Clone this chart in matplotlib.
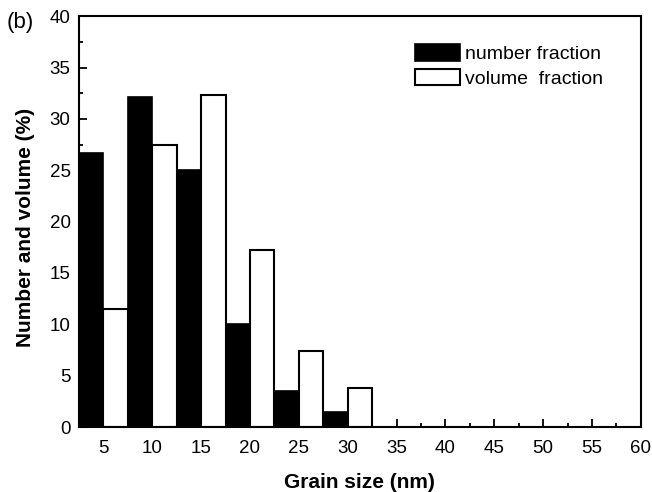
import matplotlib
matplotlib.use('Agg')
import matplotlib.pyplot as plt
from matplotlib.ticker import MultipleLocator

plt.rcParams['font.family'] = ['Liberation Sans', 'DejaVu Sans']

# grain size bins (nm) and fractions (%)
grain_size = [5, 10, 15, 20, 25, 30]
number_frac = [26.7, 32.1, 25.0, 10.0, 3.5, 1.5]
volume_frac = [11.45, 27.5, 32.3, 17.2, 7.4, 3.85]

BAR_W = 2.5

fig = plt.figure(figsize=(6.52, 4.92), dpi=100)
ax = fig.add_axes([0.121, 0.132, 0.862, 0.835])

ax.bar([g - BAR_W / 2 for g in grain_size], number_frac, width=BAR_W,
       color='black', edgecolor='black', linewidth=1.2, label='number fraction')
ax.bar([g + BAR_W / 2 for g in grain_size], volume_frac, width=BAR_W,
       color='white', edgecolor='black', linewidth=1.5, label='volume  fraction')

ax.set_xlim(2.5, 60)
ax.set_ylim(0, 40)
ax.xaxis.set_major_locator(MultipleLocator(5))
ax.xaxis.set_minor_locator(MultipleLocator(2.5))
ax.yaxis.set_major_locator(MultipleLocator(5))
ax.yaxis.set_minor_locator(MultipleLocator(2.5))
ax.tick_params(which='both', direction='in', labelsize=13.5, width=1.3)
ax.tick_params(which='major', length=6)
ax.tick_params(which='minor', length=3)
ax.tick_params(axis='x', which='major', pad=9.5)
ax.tick_params(axis='y', which='major', pad=6)
for sp in ax.spines.values():
    sp.set_linewidth(1.5)

ax.set_xlabel('Grain size (nm)', fontsize=15, fontweight='bold', labelpad=11)
ax.set_ylabel('Number and volume (%)', fontsize=15, fontweight='bold')
ax.yaxis.set_label_coords(-0.078, 0.485)

ax.legend(loc='upper left', bbox_to_anchor=(0.585, 0.952), frameon=False,
          fontsize=14, handlelength=2.3, handleheight=0.95,
          handletextpad=0.25, labelspacing=0.3, borderaxespad=0)

fig.text(0.01, 0.955, '(b)', fontsize=16, va='center', ha='left')

fig.savefig('out.png', dpi=100)
